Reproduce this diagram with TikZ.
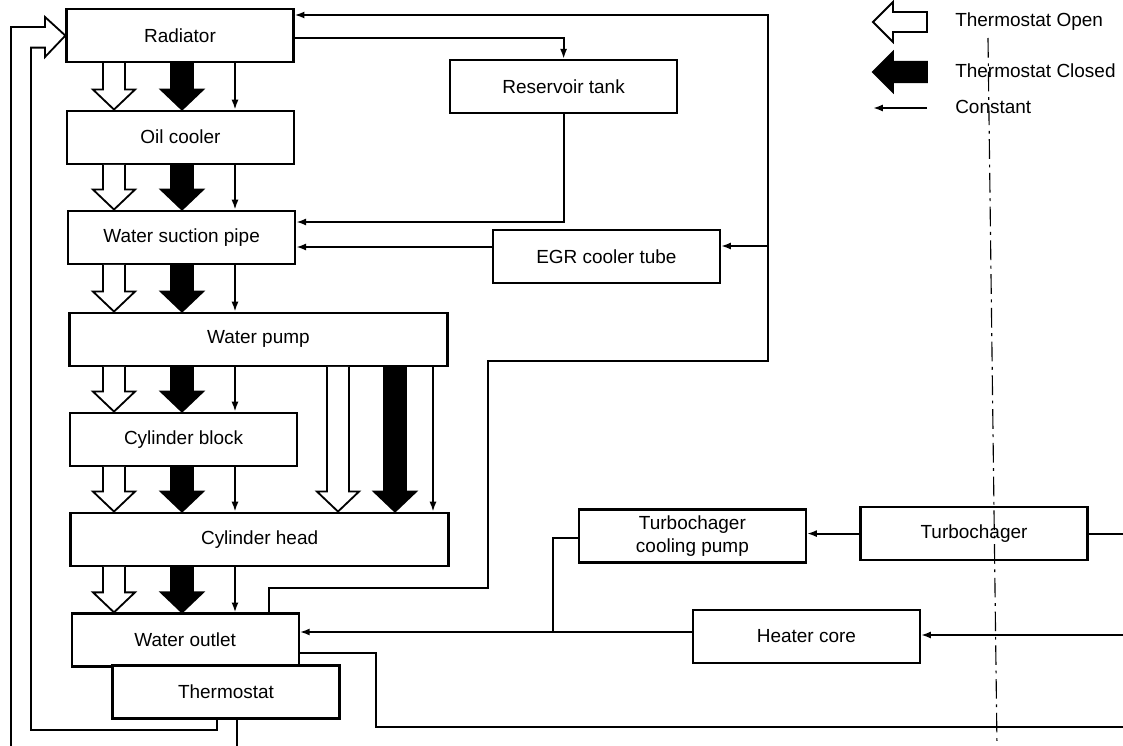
\documentclass[tikz,border=0pt]{standalone}
\usepackage{fontspec}
\setmainfont{Liberation Sans}
\usetikzlibrary{arrows.meta,calc}

% wide hollow / solid flow arrow between two boxes: fill, x, from, to
\newcommand{\fatflow}[4]{%
  \draw[blockarr,fill=#1] let \p1=(#3.south), \p2=(#4.north) in
    (#2cm-.275cm,\y1) -- (#2cm-.275cm,\y2+.5cm) -- (#2cm-.525cm,\y2+.5cm) -- (#2cm,\y2)
    -- (#2cm+.525cm,\y2+.5cm) -- (#2cm+.275cm,\y2+.5cm) -- (#2cm+.275cm,\y1);
}

\begin{document}
\begin{tikzpicture}[font=\fontsize{13.5}{16.5}\selectfont,
  box/.style={draw,line width=1.6pt,fill=white,minimum width=5.675cm,minimum height=1.325cm,inner sep=2pt,align=center},
  wide/.style={box,minimum width=9.45cm},
  pipe/.style={line width=1.3pt},
  flow/.style={pipe,-{Latex[length=7pt,width=5pt]}},
  blockarr/.style={line width=1.3pt,line join=miter},
  lgd/.style={anchor=west,inner sep=0pt},
  foldline/.style={line width=0.8pt,dash pattern=on 14pt off 4pt on 2pt off 4pt}]
  \useasboundingbox (0,0) rectangle (28.075,-18.65);

  % boxes
  \foreach \n/\x/\y/\t in {rad/4.5/-0.89/Radiator,oil/4.51/-3.43/Oil cooler,
      suct/4.54/-5.93/Water suction pipe,block/4.59/-10.98/Cylinder block,
      outlet/4.63/-16.0/Water outlet,res/14.09/-2.16/Reservoir tank,
      egr/15.16/-6.41/EGR cooler tube,turbo/24.35/-13.34/Turbochager,
      heater/20.16/-15.91/Heater core}{
    \node[box] (\n) at (\x,\y) {\t};
  }
  \node[wide] (pump) at (6.46,-8.48) {Water pump};
  \node[wide] (head) at (6.49,-13.48) {Cylinder head};
  \node[box] (thermo) at (5.65,-17.3) {Thermostat};
  \node[box] (tcp) at (17.31,-13.4) {Turbochager\\cooling pump};

  % main stack
  \foreach \a/\b in {rad/oil,oil/suct,suct/pump,pump/block,block/head,head/outlet}{
    \fatflow{white}{2.85}{\a}{\b}
    \fatflow{black}{4.55}{\a}{\b}
    \draw[flow] (5.875,0 |- \a.south) -- (5.875,0 |- \b.north);
  }
  \fatflow{white}{8.45}{pump}{head}
  \fatflow{black}{9.875}{pump}{head}
  \draw[flow] (10.825,0 |- pump.south) -- (10.825,0 |- head.north);

  % return to radiator
  \coordinate (egrtap) at (19.2,-6.15);
  \draw[flow] (6.725,0 |- outlet.north) -- (6.725,-14.7) -- (12.2,-14.7) -- (12.2,-9.025)
    -- (19.2,-9.025) -- (19.2,-0.375) -- (rad.east |- 0,-0.375);
  \draw[flow] (egrtap) -- (egrtap -| egr.east);
  \draw[flow] (egr.west |- 0,-6.175) -- (suct.east |- 0,-6.175);
  \draw[flow] (rad.east |- 0,-0.95) -| (res.north);
  \draw[flow] (res.south) |- (suct.east |- 0,-5.55);

  % turbo and heater
  \coordinate (turboin) at (28.075,-13.34);
  \coordinate (heatin) at (28.075,-15.875);
  \coordinate (drain) at (28.075,-18.175);
  \draw[pipe] (turbo.east) -- (turboin);
  \draw[flow] (turbo.west) -- (turbo.west -| tcp.east);
  \draw[flow] (heatin) -- (heatin -| heater.east);
  \draw[pipe] (tcp.west |- 0,-13.45) -- (13.825,-13.45) -- (13.825,-15.8);
  \draw[flow] (heater.west |- 0,-15.8) -- (outlet.east |- 0,-15.8);
  \draw[pipe] (outlet.east |- 0,-16.325) -- (9.4,-16.325) -- (9.4,-18.175) -- (drain);

  % thermostat outlets
  \coordinate (rtn) at (0.275,-18.65);
  \coordinate (thdrain) at (5.925,-18.65);
  \draw[pipe] (5.925,0 |- thermo.south) -- (thdrain);
  \draw[pipe,line join=miter] (rtn) -- (0.275,-0.675) -- (1.125,-0.675) -- (1.125,-0.425) -- (rad.west)
    -- (1.125,-1.425) -- (1.125,-1.19) -- (0.775,-1.19) -- (0.775,-18.25) -- (5.425,-18.25)
    -- (5.425,0 |- thermo.south);

  % legend
  \node[lgd] (lopen) at (23.875,-0.55) {Thermostat Open};
  \node[lgd] (lshut) at (23.875,-1.78) {Thermostat Closed};
  \node[lgd] (lconst) at (23.875,-2.68) {Constant};
  \draw[blockarr,fill=white] (23.175,-0.3) -- (22.325,-0.3) -- (22.325,-0.05) -- (21.825,-0.55)
    -- (22.325,-1.05) -- (22.325,-0.8) -- (23.175,-0.8) -- cycle;
  \draw[blockarr,fill=black] (23.175,-1.545) -- (22.325,-1.545) -- (22.325,-1.3) -- (21.825,-1.8)
    -- (22.325,-2.3) -- (22.325,-2.055) -- (23.175,-2.055) -- cycle;
  \draw[flow] (23.175,-2.7) -- (21.825,-2.7);

  \draw[foldline] (24.7,-0.95) -- (24.925,-18.65);
\end{tikzpicture}
\end{document}
